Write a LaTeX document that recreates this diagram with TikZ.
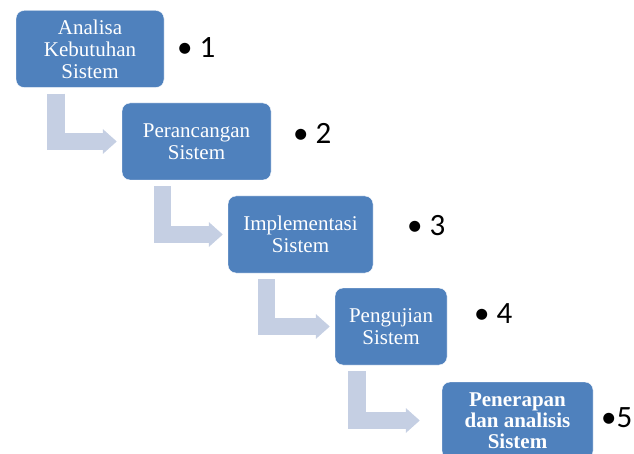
\documentclass[tikz,border=0pt]{standalone}
\usepackage{fontspec}
\setmainfont{Liberation Serif}
\newfontfamily\numfont{Carlito}
\usetikzlibrary{arrows.meta, positioning}
\definecolor{boxblue}{RGB}{79,129,189}
\definecolor{flowblue}{RGB}{197,207,227}
\tikzstyle{phasebox} = [rectangle, rounded corners=8pt, minimum height=77pt, inner sep=2pt, align=center, fill=boxblue, draw=white, text=white, font=\fontsize{21}{22}\selectfont]
\tikzstyle{lastbox} = [phasebox, font=\fontsize{21}{21}\selectfont\bfseries]
\tikzstyle{flow} = [draw=flowblue, line width=17.5pt, -{Triangle[length=14pt,width=24pt]}]
\tikzstyle{marker} = [anchor=base west, inner sep=0pt, font=\numfont\fontsize{31}{33}\selectfont]

\begin{document}
\begin{tikzpicture}[x=1pt, y=1pt]
\useasboundingbox (0,0) rectangle (634,453);
\clip (0,0) rectangle (634,453);

\node (analisa) [phasebox, minimum width=148pt] at (90,404) {Analisa\\Kebutuhan\\Sistem};
\node (rancang) [phasebox, minimum width=149pt] at (196.5,311.5) {Perancangan\\Sistem};
\node (implement) [phasebox, minimum width=145pt] at (300.5,218.5) {Implementasi\\Sistem};
\node (uji) [phasebox, minimum width=112pt] at (391,126.5) {Pengujian\\Sistem};
\node (terap) [lastbox, minimum width=151pt] at (517.5,32.5) {Penerapan\\dan analisis\\Sistem};

% step numbers
\node (num1) [marker] at (177,395) {\textbullet\ 1};
\node (num2) [marker] at (293,309) {\textbullet\ 2};
\node (num3) [marker] at (407,218) {\textbullet\ 3};
\node (num4) [marker] at (474,130) {\textbullet\ 4};
\node (num5) [marker] at (601,26) {\textbullet 5};

\draw [flow] ([xshift=-34pt,yshift=-6pt]analisa.south) |- ([xshift=-5pt]rancang.west);
\draw [flow] ([xshift=-34pt,yshift=-6pt]rancang.south) |- ([xshift=-5pt]implement.west);
\draw [flow] ([xshift=-34pt,yshift=-6pt]implement.south) |- ([xshift=-5pt]uji.west);
\draw [flow] ([xshift=-34pt,yshift=-6pt]uji.south) |- ([xshift=-22pt]terap.west);
\end{tikzpicture}
\end{document}
